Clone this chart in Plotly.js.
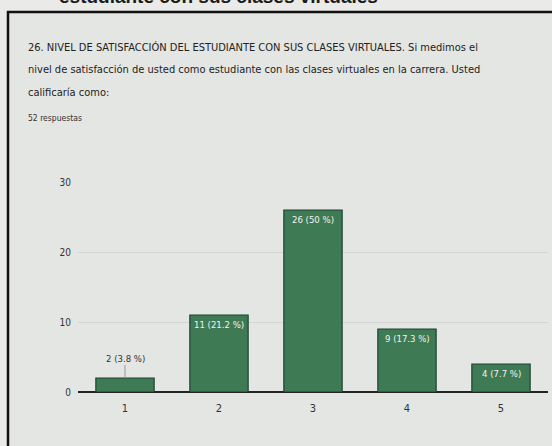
<!DOCTYPE html>
<html>
<head>
<meta charset="utf-8">
<script src="https://cdn.plot.ly/plotly-3.0.1.min.js"></script>
<style>html,body{margin:0;padding:0;background:#eaebe8;}#chart{width:552px;height:446px;}</style>
</head>
<body>
<div id="chart"></div>
<script>
// Data
var categories = ['1', '2', '3', '4', '5'];
var counts = [2, 11, 26, 9, 4];
var percents = ['3.8', '21.2', '50', '17.3', '7.7'];
var yTicks = [0, 10, 20, 30];
var titleLines = [
  '26. NIVEL DE SATISFACCIÓN DEL ESTUDIANTE CON SUS CLASES VIRTUALES. Si medimos el',
  'nivel de satisfacción de usted como estudiante con las clases virtuales en la carrera. Usted',
  'calificaría como:'
];
var responsesText = '52 respuestas';
var headingText = 'estudiante con sus clases virtuales';

var FONT = '"DejaVu Sans Condensed", "Liberation Sans Narrow", "Roboto", sans-serif';

// pixel helpers (plot area: x 78..548, y 182..392)
function px(x){ return (x - 78) / 470; }
function py(y){ return (392 - y) / 210; }

var labels = counts.map(function(c, i){ return c + ' (' + percents[i] + ' %)'; });

var annotations = [];
// heading (cut off at top of the photo, as in the reference)
annotations.push({xref:'paper', yref:'paper', x:px(218), y:py(-4), xanchor:'center', yanchor:'middle',
  text:'<b>' + headingText + '</b>', showarrow:false, font:{family:'"Liberation Sans", Arial, sans-serif', size:19, color:'#1a1a1a'}});
// title lines
var lineY = [47, 70, 93];
titleLines.forEach(function(t, i){
  annotations.push({xref:'paper', yref:'paper', x:px(26), y:py(lineY[i]), xanchor:'left', yanchor:'middle',
    text:t, showarrow:false, font:{family:FONT, size:11, color:'#222'}});
});
annotations.push({xref:'paper', yref:'paper', x:px(26), y:py(118), xanchor:'left', yanchor:'middle',
  text:responsesText, showarrow:false, font:{family:FONT, size:8.5, color:'#333'}});
// bar labels (x given as category index)
categories.forEach(function(c, i){
  if (counts[i] < 3) {
    annotations.push({x:i, y:counts[i], xref:'x', yref:'y', text:labels[i], showarrow:true,
      arrowhead:0, arrowwidth:1, arrowcolor:'#999', ax:0, ay:-20,
      font:{family:FONT, size:9.5, color:'#333'}});
  } else {
    annotations.push({x:i, y:counts[i], xref:'x', yref:'y', text:labels[i], showarrow:false,
      yanchor:'top', yshift:-2, font:{family:FONT, size:9.5, color:'#f2f2f2'}});
  }
});

var trace = {
  type:'bar', x:categories, y:counts,
  marker:{color:'#3e7b55', line:{color:'#1d4330', width:1.2}},
  hoverinfo:'none'
};

var layout = {
  width:552, height:446,
  margin:{l:78, r:4, t:182, b:54},
  paper_bgcolor:'#eaebe8', plot_bgcolor:'rgba(0,0,0,0)',
  showlegend:false, bargap:0.38,
  font:{family:FONT, color:'#333'},
  xaxis:{type:'category', range:[-0.5, 4.5], showgrid:false, zeroline:false, showline:false,
    ticks:'', ticklabelstandoff:8, tickfont:{family:FONT, size:11, color:'#333'}, fixedrange:true},
  yaxis:{range:[0, 30], tickvals:yTicks, showgrid:true, gridcolor:'#d2d5d1', gridwidth:1,
    zeroline:true, zerolinecolor:'#222', zerolinewidth:2, showline:false, ticks:'',
    ticklabelstandoff:6, tickfont:{family:FONT, size:10, color:'#333'}, fixedrange:true},
  shapes:[
    {type:'rect', xref:'paper', yref:'paper', x0:px(8), x1:px(562), y0:py(470), y1:py(12),
      line:{color:'#111', width:2.5}, fillcolor:'#e4e6e3', layer:'below'}
  ],
  annotations:annotations
};

Plotly.newPlot('chart', [trace], layout, {displayModeBar:false, staticPlot:true});
</script>
</body>
</html>
